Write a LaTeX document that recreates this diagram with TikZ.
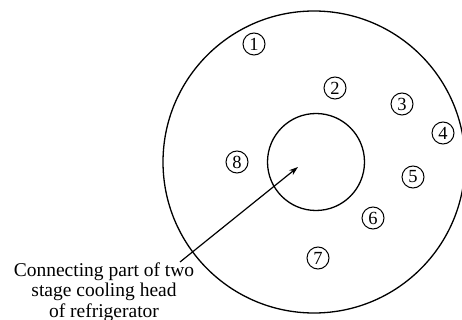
\documentclass[tikz,border=0pt]{standalone}
\usepackage{fontspec}
\setmainfont{Liberation Serif}
\usetikzlibrary{arrows.meta}
\begin{document}
\begin{tikzpicture}[x=1pt,y=-1pt,
  ring/.style={draw,line width=1.3pt},
  num/.style={draw,circle,line width=1pt,inner sep=0pt,minimum size=22pt,font=\fontsize{18.5}{18.5}\selectfont},
  lbl/.style={align=center,font=\fontsize{19.5}{20.5}\selectfont,inner sep=0pt}]
\useasboundingbox (0,0) rectangle (462,320);
\node[ring,circle,minimum size=302pt,inner sep=0pt] (outer) at (314,162) {};
\node[ring,circle,minimum size=97pt,inner sep=0pt] (inner) at (316,162) {};
\node[num] (n1) at (254,44) {1};
\node[num] (n2) at (335,88) {2};
\node[num] (n3) at (402,104) {3};
\node[num] (n4) at (443,133) {4};
\node[num] (n5) at (413,177) {5};
\node[num] (n6) at (373,218) {6};
\node[num] (n7) at (318,258) {7};
\node[num] (n8) at (237,162) {8};
\node[lbl] (label) at (104,292) {Connecting part of two\\stage cooling head\\of refrigerator};
\coordinate (start) at (180,262);
\coordinate (tip) at (298,167);
\draw[line width=1.2pt,-{Stealth[length=9pt,width=6pt]}] (start) -- (tip);
\end{tikzpicture}
\end{document}
